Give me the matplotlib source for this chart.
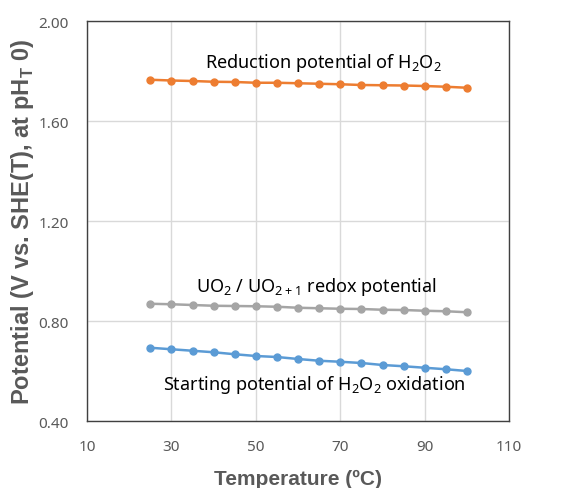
import numpy as np
import matplotlib
matplotlib.use("Agg")
import matplotlib.pyplot as plt

plt.rcParams['font.family'] = ['Noto Sans', 'DejaVu Sans']
plt.rcParams['mathtext.fontset'] = 'custom'
plt.rcParams['mathtext.rm'] = 'Noto Sans'
plt.rcParams['mathtext.bf'] = 'Liberation Sans:bold'

# Temperatures (deg C) and potentials
temperature = [25, 30, 35, 40, 45, 50, 55, 60, 65, 70, 75, 80, 85, 90, 95, 100]
reduction_h2o2 = [1.765, 1.762, 1.760, 1.757, 1.756, 1.753, 1.753, 1.751,
                  1.749, 1.747, 1.744, 1.743, 1.742, 1.740, 1.737, 1.733]
uo2_redox = [0.869, 0.867, 0.864, 0.861, 0.860, 0.859, 0.857, 0.853,
             0.851, 0.849, 0.848, 0.845, 0.844, 0.841, 0.839, 0.835]
oxidation_h2o2 = [0.693, 0.687, 0.681, 0.675, 0.667, 0.660, 0.656, 0.648,
                  0.641, 0.637, 0.632, 0.624, 0.619, 0.613, 0.607, 0.600]

x_ticks = [10, 30, 50, 70, 90, 110]
y_ticks = [0.40, 0.80, 1.20, 1.60, 2.00]

fig = plt.figure(figsize=(5.84, 4.89), dpi=100)
ax = fig.add_axes([0.149, 0.137, 0.723, 0.818])

ax.plot(temperature, reduction_h2o2, color='#ED7D31', marker='o', ms=5, lw=1.8)
ax.plot(temperature, uo2_redox, color='#A5A5A5', marker='o', ms=5, lw=1.8)
ax.plot(temperature, oxidation_h2o2, color='#5B9BD5', marker='o', ms=5, lw=1.8)

ax.set_xlim(10, 110)
ax.set_ylim(0.4, 2.0)
ax.set_xticks(x_ticks)
ax.set_yticks(y_ticks)
ax.set_yticklabels([f"{v:.2f}" for v in y_ticks])
ax.grid(True, color='#d9d9d9', lw=1)
ax.set_axisbelow(True)
ax.tick_params(length=0, labelsize=11, labelcolor='#595959')
ax.tick_params(axis='x', pad=13)
ax.tick_params(axis='y', pad=13)
for s in ax.spines.values():
    s.set_color('#404040')
    s.set_linewidth(1)

ax.set_xlabel('Temperature (ºC)', fontsize=15, fontweight='bold', color='#595959',
              labelpad=11, family='Liberation Sans')
ax.set_ylabel(r'Potential (V vs. SHE(T), at pH$_\mathbf{T}$ 0)', fontsize=17,
              fontweight='bold', color='#595959', family='Liberation Sans')
ax.yaxis.set_label_coords(-0.12, 0.5)

ax.text(66, 1.836, r'Reduction potential of H$_\mathregular{2}$O$_\mathregular{2}$',
        fontsize=13, ha='center', va='center')
ax.text(64.3, 0.94, r'UO$_\mathregular{2}$ / UO$_\mathregular{2+1}$ redox potential',
        fontsize=13, ha='center', va='center')
ax.text(63.8, 0.548, r'Starting potential of H$_\mathregular{2}$O$_\mathregular{2}$ oxidation',
        fontsize=13, ha='center', va='center')

fig.savefig('out.png', dpi=100)
